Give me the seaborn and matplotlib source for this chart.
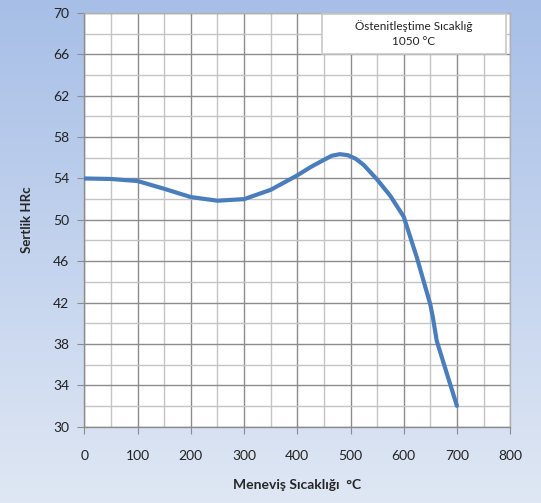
import numpy as np
import pandas as pd
import matplotlib
matplotlib.use('Agg')
import matplotlib.pyplot as plt
from matplotlib.ticker import MultipleLocator
from matplotlib.patches import Rectangle
import seaborn as sns

# values
temper_temp = [0, 50, 100, 150, 200, 250, 300, 350, 400, 425, 450, 465, 480, 495, 510,
               525, 550, 575, 600, 625, 650, 655, 662, 680, 700]
hardness = [54.0, 53.95, 53.75, 53.0, 52.2, 51.85, 52.0, 52.9, 54.3, 55.1, 55.8, 56.2, 56.35, 56.25, 55.9,
            55.3, 53.9, 52.3, 50.3, 46.3, 41.8, 40.5, 38.3, 35.3, 32.0]
x_ticks = list(range(0, 801, 100))
y_ticks = list(range(30, 71, 4))

data = pd.DataFrame({'temp': temper_temp, 'hrc': hardness})

sns.set_style('white')
plt.rcParams['font.family'] = ['Lato', 'DejaVu Sans']

fig = plt.figure(figsize=(5.41, 5.03), dpi=100)

# gradient background
bg = fig.add_axes([0, 0, 1, 1], zorder=0)
top = np.array([0.655, 0.749, 0.906])
bot = np.array([0.875, 0.906, 0.957])
t = np.linspace(0, 1, 256)[:, None]
grad = (top * (1 - t) + bot * t)[:, None, :]
bg.imshow(grad, aspect='auto', extent=[0, 1, 0, 1])
bg.axis('off')

ax = fig.add_axes([0.156, 0.152, 0.787, 0.822], zorder=1)
ax.set_facecolor('white')

sns.lineplot(data=data, x='temp', y='hrc', ax=ax, color='#4a7dbb', linewidth=3.0,
             zorder=5, sort=False)

ax.set_xlim(0, 800)
ax.set_ylim(30, 70)
ax.set_xticks(x_ticks)
ax.set_yticks(y_ticks)
ax.xaxis.set_minor_locator(MultipleLocator(50))
ax.yaxis.set_minor_locator(MultipleLocator(2))
ax.grid(which='major', color='#8c8c8c', linewidth=1.0, zorder=1)
ax.grid(which='minor', color='#c4c4c4', linewidth=1.0, zorder=1)
ax.set_axisbelow(True)

for s in ax.spines.values():
    s.set_color('#b0b0b0')
    s.set_linewidth(1.0)
ax.spines['left'].set_color('#8c8c8c')
ax.spines['bottom'].set_color('#8c8c8c')

ax.tick_params(axis='both', which='major', length=5, color='#8c8c8c',
               labelsize=10, labelcolor='#222222')
ax.tick_params(axis='x', which='major', pad=12)
ax.tick_params(axis='y', which='major', pad=6)
ax.tick_params(which='minor', length=0)
ax.tick_params(axis='x', direction='out', bottom=True)
ax.tick_params(axis='y', direction='out', left=True)

ax.set_xlabel('Meneviş Sıcaklığı  °C', fontsize=10, fontweight='bold', labelpad=12)
ax.set_ylabel('Sertlik HRc', fontsize=9.5, fontweight='bold', labelpad=14)

# annotation box, top right
ax.add_patch(Rectangle((0.557, 0.901), 0.434, 0.096, transform=ax.transAxes,
                       facecolor='white', edgecolor='#c8c8c8', linewidth=1.2, zorder=9))
ax.text(0.774, 0.951, 'Östenitleştime Sıcaklığ\n1050 °C', transform=ax.transAxes,
        ha='center', va='center', fontsize=8.5, linespacing=1.45, zorder=10,
        color='#222222')

fig.savefig('out.png', dpi=100)
